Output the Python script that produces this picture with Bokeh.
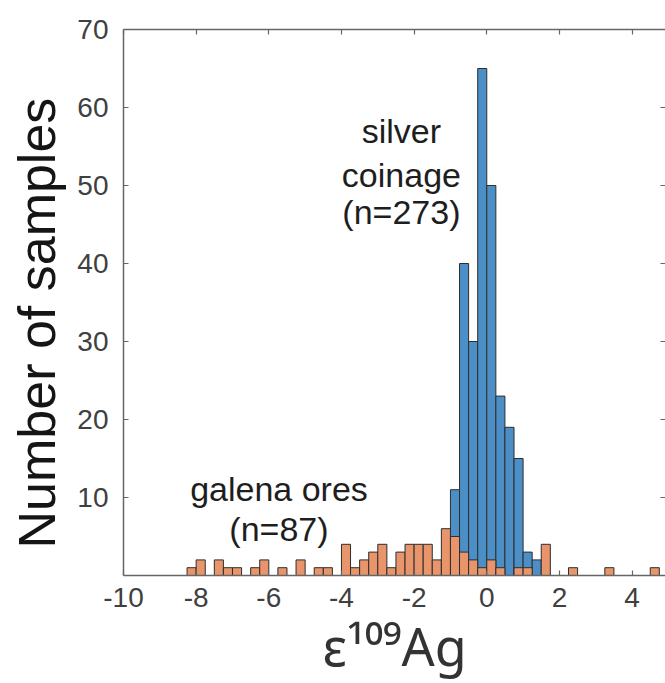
from bokeh.plotting import figure
from bokeh.models import Range1d, FixedTicker, LinearAxis, Label, Title
from bokeh.embed import file_html
from bokeh.resources import INLINE

# ---- data ----
bin_width = 0.25
coin_left = [-1.0, -0.75, -0.5, -0.25, 0.0, 0.25, 0.5, 0.75, 1.0, 1.25]
coin_counts = [11, 40, 30, 65, 50, 23, 19, 15, 3, 2]
ore_left = [-8.25, -8.0, -7.5, -7.25, -7.0, -6.5, -6.25, -5.75, -5.25, -4.75, -4.5,
            -4.0, -3.75, -3.5, -3.25, -3.0, -2.75, -2.5, -2.25, -2.0, -1.75, -1.5, -1.25,
            -1.0, -0.75, -0.5, -0.25, 0.0, 0.25, 0.75, 1.0, 1.5, 2.25, 3.25, 4.5]
ore_counts = [1, 2, 2, 1, 1, 1, 2, 1, 2, 1, 1,
              4, 1, 2, 3, 4, 1, 3, 4, 4, 4, 2, 6,
              5, 3, 2, 1, 2, 1, 1, 1, 4, 1, 1, 1]
x_ticks = [-10, -8, -6, -4, -2, 0, 2, 4]
x_tick_labels = ["-10", "-8", "-6", "-4", "-2", "0", "2", "4"]
y_ticks = [10, 20, 30, 40, 50, 60, 70]
coin_text = ["silver", "coinage", "(n=273)"]
ore_text = ["galena ores", "(n=87)"]
x_title = "ε¹⁰⁹Ag"
y_title = "Number of samples"

FONT = "Liberation Sans"
AXIS_COLOR = "#666666"
TICK_LABEL_COLOR = "#404040"

p = figure(width=665, height=683, output_backend="svg", toolbar_location=None,
           x_range=Range1d(-10, 4.92), y_range=Range1d(0, 70),
           min_border_left=122, min_border_right=0, min_border_top=29,
           min_border_bottom=108)
p.outline_line_color = None
p.xgrid.visible = False
p.ygrid.visible = False
p.background_fill_color = "white"
p.border_fill_color = "white"

p.quad(left=coin_left, right=[v + bin_width for v in coin_left], top=coin_counts,
       bottom=0, fill_color="#4b8fc6", line_color="#2e2e2e", line_width=1)
p.quad(left=ore_left, right=[v + bin_width for v in ore_left], top=ore_counts,
       bottom=0, fill_color="#e8956b", line_color="#2e2e2e", line_width=1)


def style_axis(ax, ticks, show_labels, standoff=10):
    ax.ticker = FixedTicker(ticks=ticks)
    ax.axis_line_color = AXIS_COLOR
    ax.axis_line_width = 1.5
    ax.major_tick_line_color = AXIS_COLOR
    ax.major_tick_line_width = 1.2
    ax.major_tick_in = 5
    ax.major_tick_out = 0
    ax.minor_tick_line_color = None
    if show_labels:
        ax.major_label_text_font = FONT
        ax.major_label_text_font_size = "28px"
        ax.major_label_text_color = TICK_LABEL_COLOR
        ax.major_label_standoff = standoff
    else:
        ax.major_label_overrides = {float(t): "" for t in ticks}
        ax.major_label_standoff = 0


xa = p.xaxis[0]
style_axis(xa, x_ticks, True, standoff=12)
xa.major_label_overrides = {float(t): s for t, s in zip(x_ticks, x_tick_labels)}
xa.axis_label = x_title
xa.axis_label_text_font = "Noto Sans"
xa.axis_label_text_font_size = "52px"
xa.axis_label_text_font_style = "normal"
xa.axis_label_text_color = "#333333"
xa.axis_label_standoff = 0

ya = p.yaxis[0]
style_axis(ya, y_ticks, True, standoff=15)

# y-axis title, placed as a side title so that it can sit slightly below centre
p.add_layout(Title(text=y_title, align="left", offset=27, vertical_align="top",
                   text_font=FONT, text_font_size="52px", text_font_style="normal",
                   text_color="#151515", standoff=14), "left")

top_ax = LinearAxis()
style_axis(top_ax, x_ticks, False)
p.add_layout(top_ax, "above")

right_ax = LinearAxis()
style_axis(right_ax, y_ticks, False)
right_ax.axis_line_color = None
p.add_layout(right_ax, "right")

TEXT_COLOR = "#1e1e1e"
for txt, yv in zip(coin_text, [56.93, 51.3, 46.54]):
    p.add_layout(Label(x=-2.35, y=yv, text=txt, text_align="center",
                       text_baseline="alphabetic", text_font=FONT,
                       text_font_size="34px", text_color=TEXT_COLOR))
for txt, yv in zip(ore_text, [11.03, 5.9]):
    p.add_layout(Label(x=-5.72, y=yv, text=txt, text_align="center",
                       text_baseline="alphabetic", text_font=FONT,
                       text_font_size="34px", text_color=TEXT_COLOR))

open("out.html", "w").write(file_html(p, INLINE))
